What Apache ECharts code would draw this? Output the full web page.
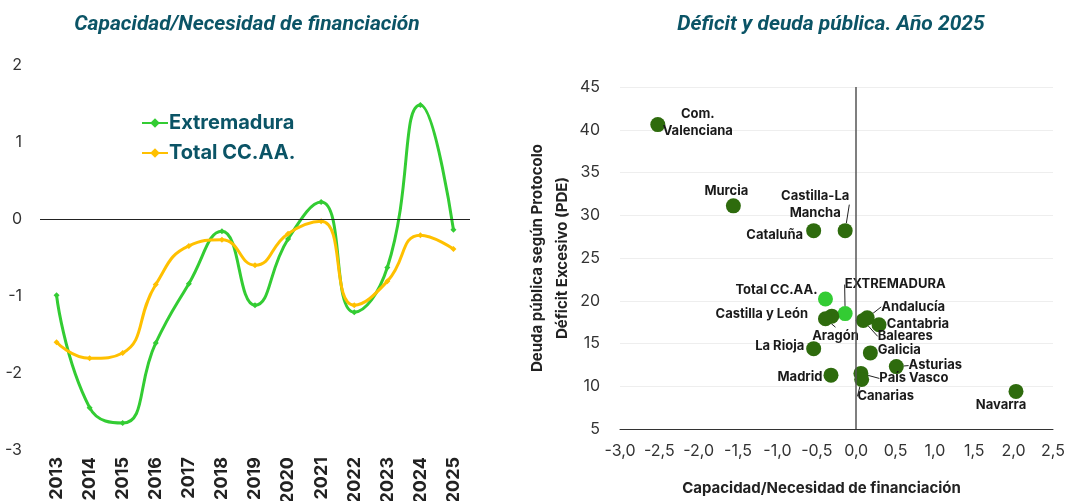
<!DOCTYPE html>
<html>
<head>
<meta charset="utf-8">
<script src="https://cdn.jsdelivr.net/npm/echarts@6/dist/echarts.min.js"></script>
<style>
html,body{margin:0;padding:0;background:#fff;}
#main{width:1067px;height:501px;}
</style>
</head>
<body>
<div id="main"></div>
<script>
// --- datos: capacidad/necesidad de financiación ---
var years = ['2013','2014','2015','2016','2017','2018','2019','2020','2021','2022','2023','2024','2025'];
var extremadura = [-0.99, -2.45, -2.65, -1.61, -0.84, -0.16, -1.12, -0.26, 0.22, -1.21, -0.63, 1.48, -0.14];
var totalCCAA = [-1.60, -1.81, -1.74, -0.85, -0.35, -0.27, -0.60, -0.19, -0.03, -1.12, -0.81, -0.21, -0.39];

// --- datos: déficit (x) y deuda (y) 2025 ---
var regiones = ['Com.\nValenciana','Murcia','Cataluña','Castilla-La\nMancha','Total CC.AA.','EXTREMADURA',
  'Castilla y León','Aragón','Andalucía','Baleares','Cantabria','La Rioja','Galicia','Asturias',
  'Madrid','País Vasco','Canarias','Navarra'];
var deficit = [-2.52, -1.56, -0.54, -0.14, -0.39, -0.14, -0.31, -0.39, 0.14, 0.09, 0.29, -0.54, 0.18, 0.51, -0.32, 0.06, 0.07, 2.03];
var deuda = [40.6, 31.1, 28.2, 28.2, 20.2, 18.5, 18.2, 17.9, 18.0, 17.7, 17.2, 14.4, 13.9, 12.3, 11.3, 11.5, 10.8, 9.4];
var destacados = ['Total CC.AA.','EXTREMADURA'];

// desplazamiento de etiquetas (px) y si llevan línea guía
var etiq = {
  'Com.\nValenciana': [40, -2, false],
  'Murcia': [-7, -15, false],
  'Cataluña': [-39, 4, false],
  'Castilla-La\nMancha': [-30, -26, true],
  'Total CC.AA.': [-49, -9, false],
  'EXTREMADURA': [50, -29, true],
  'Castilla y León': [-70, -2, false],
  'Aragón': [10, 17, true],
  'Andalucía': [46, -11, true],
  'Baleares': [42, 16, true],
  'Cantabria': [39, -1, false],
  'La Rioja': [-34, -3, false],
  'Galicia': [29, -3, false],
  'Asturias': [39, -1, true],
  'Madrid': [-31, 2, false],
  'País Vasco': [53, 5, true],
  'Canarias': [24, 17, true],
  'Navarra': [-15, 14, false]
};

var teal = '#0b5466';
var fmtComa = function (v) { return v.toFixed(1).replace('.', ','); };

var puntos = regiones.map(function (n, i) {
  var e = etiq[n];
  var dest = destacados.indexOf(n) >= 0;
  return {
    name: n,
    value: [deficit[i], deuda[i]],
    itemStyle: { color: dest ? '#33cc33' : '#2e6b0d', opacity: 1 },
    labelLine: { show: e[2], lineStyle: { color: '#222', width: 1 } }
  };
});

var chart = echarts.init(document.getElementById('main'));
chart.setOption({
  animation: false,
  textStyle: { fontFamily: 'Inter, Roboto, sans-serif' },
  title: [
    { text: 'Capacidad/Necesidad de financiación', left: 242, top: 9, textAlign: 'center',
      textStyle: { color: teal, fontSize: 21, fontWeight: 'bold', fontStyle: 'italic', fontFamily: 'Roboto' } },
    { text: 'Déficit y deuda pública. Año 2025', left: 826, top: 9, textAlign: 'center',
      textStyle: { color: teal, fontSize: 21, fontWeight: 'bold', fontStyle: 'italic', fontFamily: 'Roboto' } }
  ],
  legend: {
    orient: 'vertical', left: 136, top: 108, itemGap: 10, itemWidth: 26, itemHeight: 12,
    data: ['Extremadura', 'Total CC.AA.'],
    textStyle: { color: teal, fontSize: 20, fontWeight: 'bold', padding: [0, 0, 0, -4] }
  },
  grid: [
    { left: 40, top: 65, width: 430, height: 385, outerBoundsMode: 'none', containLabel: false },
    { left: 620, top: 87, width: 433, height: 342, outerBoundsMode: 'none', containLabel: false }
  ],
  xAxis: [
    { type: 'category', gridIndex: 0, data: years, boundaryGap: true,
      axisLine: { show: false }, axisTick: { show: false },
      axisLabel: { rotate: 90, margin: 7, color: '#222', fontSize: 18, fontWeight: 'bold' } },
    { type: 'value', gridIndex: 1, min: -3, max: 2.5, interval: 0.5,
      axisLine: { show: true, onZero: false, lineStyle: { color: '#333' } },
      axisTick: { show: false }, splitLine: { show: false },
      axisLabel: { color: '#333', fontSize: 16, margin: 14, formatter: fmtComa },
      name: 'Capacidad/Necesidad de financiación', nameLocation: 'middle', nameGap: 52,
      nameTextStyle: { color: '#222', fontSize: 15, fontWeight: 'bold', padding: [0, 30, 0, 0] } }
  ],
  yAxis: [
    { type: 'value', gridIndex: 0, min: -3, max: 2, interval: 1,
      axisLine: { show: false }, axisTick: { show: false }, splitLine: { show: false },
      axisLabel: { color: '#333', fontSize: 16, margin: 18 } },
    { type: 'value', gridIndex: 1, min: 5, max: 45, interval: 5,
      axisLine: { show: false }, axisTick: { show: false },
      splitLine: { lineStyle: { color: '#eeeeee' } },
      axisLabel: { color: '#333', fontSize: 16, margin: 20 },
      name: 'Deuda pública según Protocolo\nDéficit Excesivo (PDE)', nameLocation: 'middle', nameGap: 45,
      nameTextStyle: { color: '#222', fontSize: 15, fontWeight: 'bold', lineHeight: 25 } }
  ],
  series: [
    { name: 'Extremadura', type: 'line', xAxisIndex: 0, yAxisIndex: 0, data: extremadura,
      smooth: 0.5, symbol: 'diamond', symbolSize: 6, z: 3,
      lineStyle: { color: '#33cc33', width: 3 }, itemStyle: { color: '#33cc33' },
      markLine: { silent: true, symbol: 'none', label: { show: false },
        lineStyle: { color: '#222', width: 1, type: 'solid' }, data: [{ yAxis: 0 }] } },
    { name: 'Total CC.AA.', type: 'line', xAxisIndex: 0, yAxisIndex: 0, data: totalCCAA,
      smooth: 0.5, symbol: 'diamond', symbolSize: 6, z: 4,
      lineStyle: { color: '#ffc000', width: 3 }, itemStyle: { color: '#ffc000' } },
    { name: 'deuda', type: 'scatter', xAxisIndex: 1, yAxisIndex: 1, data: puntos,
      symbolSize: 15,
      label: { show: true, position: 'inside', formatter: '{b}', color: '#1a1a1a', fontSize: 13,
        fontWeight: 'bold', lineHeight: 17, align: 'center', textBorderWidth: 0 },
      labelLine: { show: false },
      labelLayout: function (p) {
        var e = etiq[regiones[p.dataIndex]];
        return { dx: e[0], dy: e[1] };
      },
      markLine: { silent: true, symbol: 'none', label: { show: false },
        lineStyle: { color: '#555', width: 1.5, type: 'solid' }, data: [{ xAxis: 0 }] } }
  ]
});
</script>
</body>
</html>
